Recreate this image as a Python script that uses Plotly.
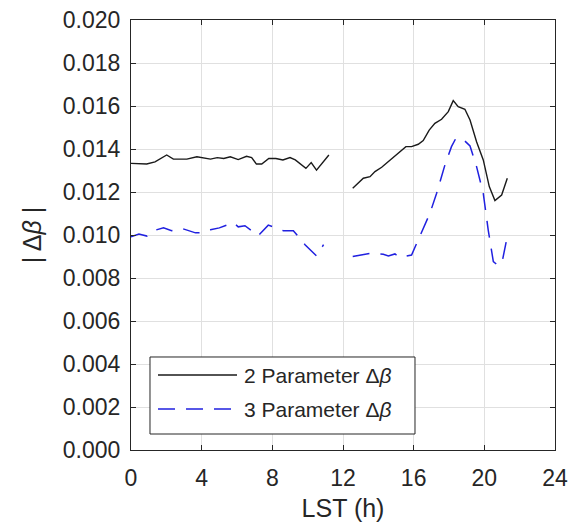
import plotly.graph_objects as go

# ---- data ----
lst_2p_a = [0.0, 0.45, 0.89, 1.36, 2.02, 2.4, 3.16, 3.73, 4.5, 4.88, 5.25, 5.62, 6.07, 6.54, 6.83,
            7.1, 7.4, 7.8, 8.2, 8.6, 9.0, 9.3, 9.9, 10.2, 10.5, 11.2]
dbeta_2p_a = [0.01333, 0.01332, 0.0133, 0.0134, 0.01372, 0.01353, 0.01353, 0.01364, 0.01353, 0.0136,
              0.01356, 0.01364, 0.01351, 0.01366, 0.0136, 0.0133, 0.0133, 0.01356, 0.01356, 0.01349,
              0.0136, 0.01349, 0.0131, 0.01337, 0.01302, 0.01372]
lst_2p_b = [12.55, 12.87, 13.15, 13.53, 13.81, 14.19, 14.57, 14.94, 15.22, 15.56, 15.88, 16.26, 16.54,
            16.88, 17.2, 17.58, 17.96, 18.24, 18.52, 18.9, 19.19, 19.56, 19.94, 20.28, 20.6, 20.98, 21.3]
dbeta_2p_b = [0.01217, 0.01244, 0.01264, 0.01271, 0.01295, 0.01315, 0.01341, 0.01368, 0.01388, 0.01411,
              0.01411, 0.01422, 0.01439, 0.01488, 0.01519, 0.01538, 0.01574, 0.01625, 0.01597, 0.01585,
              0.01535, 0.01434, 0.01349, 0.01225, 0.0116, 0.01186, 0.01264]

lst_3p_a = [0.0, 0.45, 0.9, 1.27, 1.84, 2.3, 2.9, 3.65, 4.1, 4.5, 5.0, 5.79, 6.07, 6.45, 6.8, 7.2,
            7.77, 8.24, 8.62, 9.19, 9.85, 10.5, 10.9]
dbeta_3p_a = [0.00992, 0.01004, 0.00995, 0.0102, 0.01034, 0.0102, 0.0103, 0.0101, 0.01012, 0.01024,
              0.01033, 0.01058, 0.01038, 0.01043, 0.01022, 0.00997, 0.01046, 0.0103, 0.0102, 0.0102,
              0.00955, 0.00903, 0.00955]
lst_3p_b = [12.55, 13.53, 14.28, 14.57, 14.94, 15.22, 15.88, 16.26, 16.92, 17.3, 17.77, 18.14, 18.39,
            18.8, 19.19, 19.56, 19.94, 20.22, 20.51, 20.69, 20.98, 21.26]
dbeta_3p_b = [0.009, 0.00915, 0.0091, 0.00903, 0.00912, 0.00896, 0.00907, 0.00977, 0.01101, 0.01194,
              0.01326, 0.01411, 0.0145, 0.01445, 0.01414, 0.01318, 0.01194, 0.01023, 0.00876, 0.00864,
              0.00864, 0.00977]

x_ticks = [0, 4, 8, 12, 16, 20, 24]
y_ticks = [0.000, 0.002, 0.004, 0.006, 0.008, 0.010, 0.012, 0.014, 0.016, 0.018, 0.020]
legend_names = ["2 Parameter Δ<i>β</i>", "3 Parameter Δ<i>β</i>"]

BLACK = "#1a1a1a"
BLUE = "#2020e0"
FONT = "Liberation Sans, Arial, sans-serif"
TXT = "#262626"

fig = go.Figure()
fig.add_trace(go.Scatter(x=lst_2p_a + [None] + lst_2p_b, y=dbeta_2p_a + [None] + dbeta_2p_b,
                         mode="lines", line=dict(color=BLACK, width=1.4), name=legend_names[0],
                         connectgaps=False, showlegend=False))
fig.add_trace(go.Scatter(x=lst_3p_a + [None] + lst_3p_b, y=dbeta_3p_a + [None] + dbeta_3p_b,
                         mode="lines", line=dict(color=BLUE, width=1.5, dash="17px,11px"),
                         name=legend_names[1], connectgaps=False, showlegend=False))

axis_common = dict(
    showline=True, linecolor=TXT, linewidth=1, mirror="ticks",
    ticks="inside", ticklen=5, tickcolor=TXT, tickwidth=1,
    showgrid=True, gridcolor="#e0e0e0", gridwidth=1, zeroline=False,
    tickfont=dict(family=FONT, size=23, color=TXT), automargin=False,
)

fig.update_xaxes(range=[0, 24], tickvals=x_ticks, ticktext=[str(v) for v in x_ticks],
                 ticklabelstandoff=7,
                 title=dict(text="LST (h)", font=dict(family=FONT, size=25, color=TXT), standoff=11),
                 **axis_common)
fig.update_yaxes(range=[0, 0.020], tickvals=y_ticks, ticktext=[f"{v:.3f}" for v in y_ticks],
                 ticklabelstandoff=5,
                 title=dict(text="| Δ<i>β</i> |", font=dict(family=FONT, size=25, color=TXT), standoff=14),
                 **axis_common)

# legend box drawn in paper coordinates
fig.add_shape(type="rect", xref="paper", yref="paper", x0=0.0448, x1=0.6698, y0=0.0372, y1=0.2163,
              line=dict(color=TXT, width=1), fillcolor="white", layer="above")
rows = [(0.1744, BLACK, "solid", 1.4), (0.0953, BLUE, "17px,11px", 1.5)]
for (yy, col, dash, w), name in zip(rows, legend_names):
    fig.add_shape(type="line", xref="paper", yref="paper", x0=0.0637, x1=0.25, y0=yy, y1=yy,
                  line=dict(color=col, width=w, dash=dash), layer="above")
    fig.add_annotation(xref="paper", yref="paper", x=0.262, y=yy, xanchor="left", yanchor="middle",
                       text=name, showarrow=False, font=dict(family=FONT, size=21, color=TXT))

fig.update_layout(
    width=570, height=522,
    margin=dict(l=131, r=15, t=20, b=72),
    paper_bgcolor="white", plot_bgcolor="white",
    showlegend=False,
)

fig.write_html("out.html")
